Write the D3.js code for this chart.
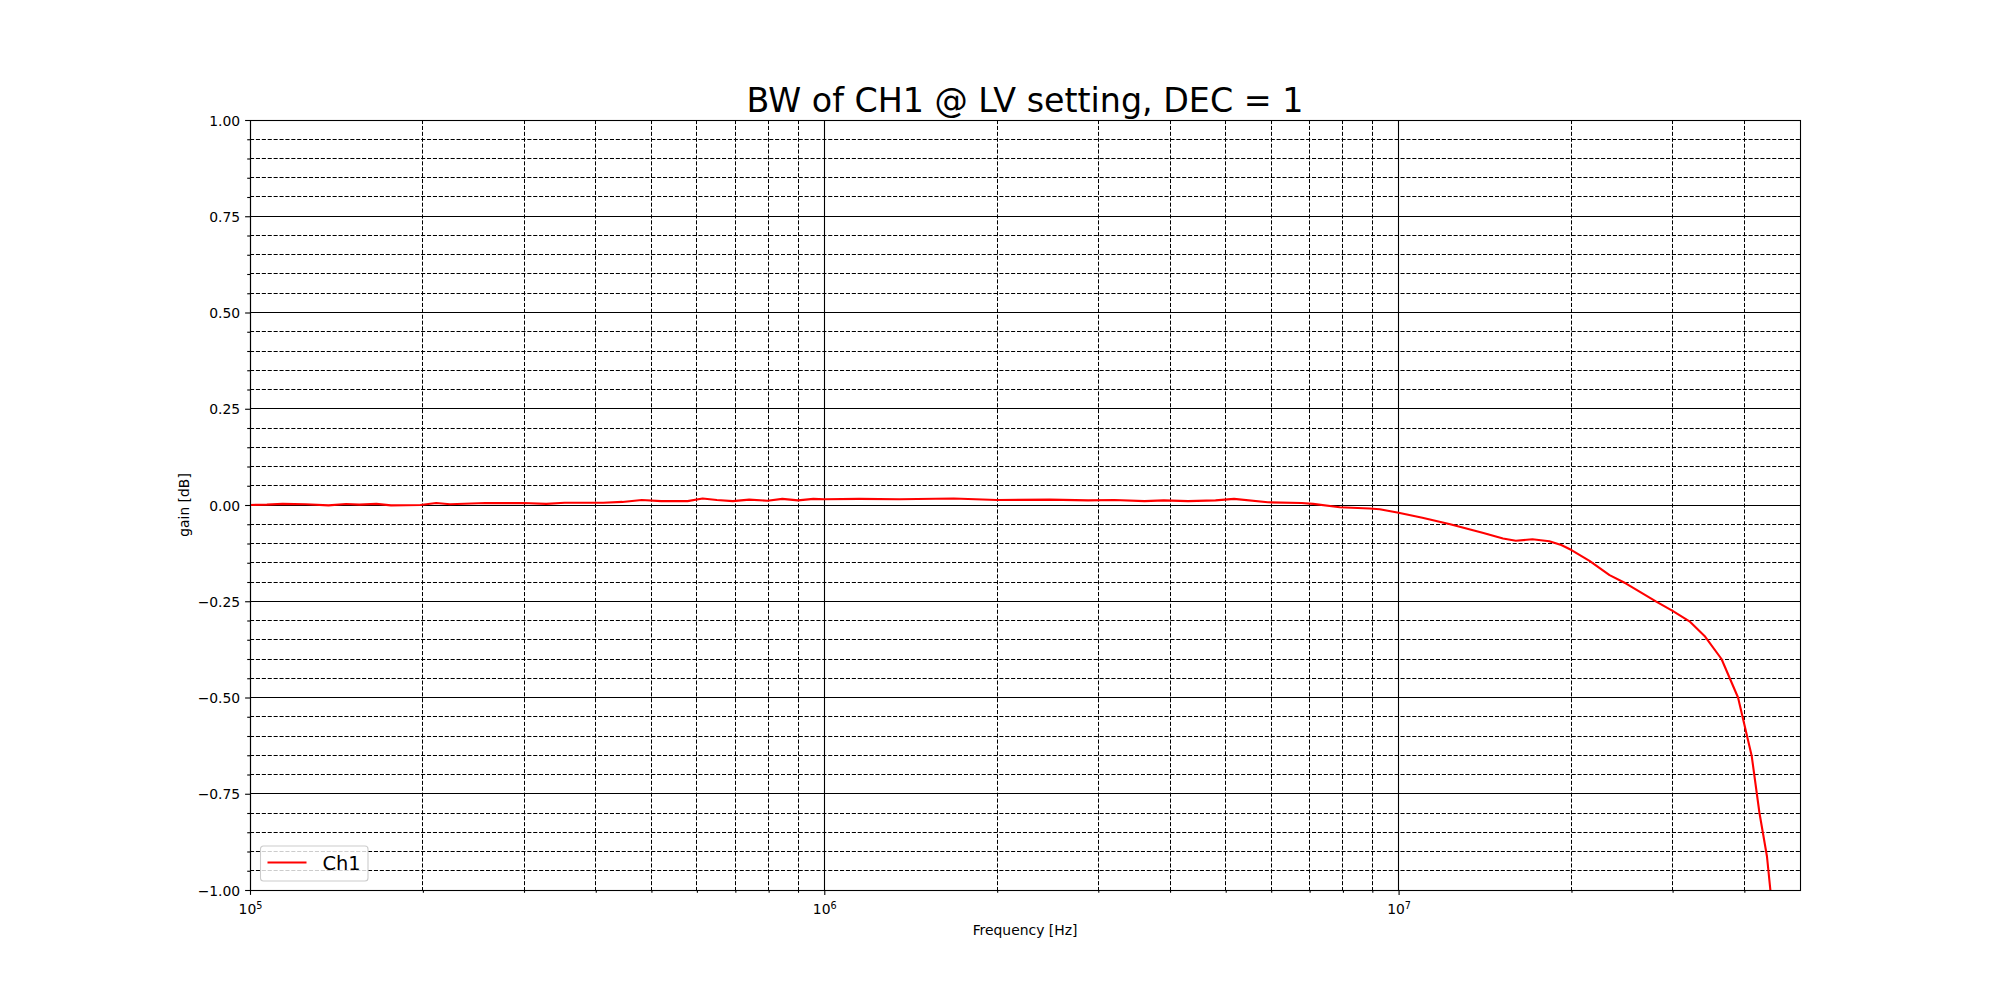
<!DOCTYPE html>
<html>
<head>
<meta charset="utf-8">
<script src="https://cdn.jsdelivr.net/npm/d3@7"></script>
<style>
  body { margin: 0; background: #fff; }
  text { font-family: "DejaVu Sans", sans-serif; fill: #000; }
</style>
</head>
<body>
<div id="chart"></div>
<script>
// Data (frequency in Hz, gain in dB)
const freqHz = [
  1.00e5, 1.07e5, 1.14e5, 1.25e5, 1.37e5, 1.47e5, 1.55e5, 1.66e5, 1.76e5, 1.98e5,
  2.11e5, 2.23e5, 2.57e5, 2.99e5, 3.28e5, 3.53e5, 4.12e5, 4.45e5, 4.81e5, 5.20e5,
  5.78e5, 6.14e5, 6.50e5, 6.93e5, 7.40e5, 7.96e5, 8.45e5, 9.00e5, 9.57e5, 1.00e6,
  1.15e6, 1.35e6, 1.68e6, 2.00e6, 2.47e6, 2.88e6, 3.20e6, 3.61e6, 3.90e6, 4.30e6,
  4.80e6, 5.17e6, 5.92e6, 6.78e6, 7.10e6, 7.90e6, 8.90e6, 9.27e6, 1.00e7, 1.10e7,
  1.23e7, 1.40e7, 1.52e7, 1.60e7, 1.71e7, 1.83e7, 1.92e7, 2.00e7, 2.15e7, 2.33e7,
  2.49e7, 2.81e7, 3.00e7, 3.21e7, 3.41e7, 3.65e7, 3.90e7, 4.12e7, 4.25e7, 4.38e7,
  4.44e7
];
const gainDb = [
  0.000, 0.001, 0.003, 0.002, -0.001, 0.0025, 0.001, 0.003, -0.001, 0.000,
  0.005, 0.002, 0.005, 0.005, 0.003, 0.006, 0.006, 0.008, 0.013, 0.010,
  0.010, 0.017, 0.013, 0.010, 0.014, 0.011, 0.016, 0.012, 0.016, 0.015,
  0.016, 0.015, 0.017, 0.013, 0.014, 0.012, 0.013, 0.010, 0.012, 0.010,
  0.012, 0.016, 0.007, 0.005, 0.003, -0.006, -0.009, -0.011, -0.020, -0.033,
  -0.050, -0.072, -0.087, -0.093, -0.089, -0.094, -0.104, -0.117, -0.145, -0.182,
  -0.204, -0.251, -0.275, -0.302, -0.340, -0.400, -0.500, -0.652, -0.800, -0.913,
  -1.000
];

const xMajorTicks = [1e5, 1e6, 1e7];
const xMinorTicks = [2e5, 3e5, 4e5, 5e5, 6e5, 7e5, 8e5, 9e5,
                     2e6, 3e6, 4e6, 5e6, 6e6, 7e6, 8e6, 9e6,
                     2e7, 3e7, 4e7];
const yMajorTicks = [-1, -0.75, -0.5, -0.25, 0, 0.25, 0.5, 0.75, 1];
const yMinorTicks = d3.range(-20, 21).filter(i => i % 5 !== 0).map(i => i * 0.05);

const titleText = "BW of CH1 @ LV setting, DEC = 1";
const seriesName = "Ch1";

// Figure size and margins (matplotlib 20x10 inch default layout)
const svgWidth = 2000;
const svgHeight = 1000;
const margin = { top: 120, right: 200, bottom: 110, left: 250 };
const chartWidth = svgWidth - margin.left - margin.right;
const chartHeight = svgHeight - margin.top - margin.bottom;

const svg = d3.select("#chart")
  .append("svg")
  .attr("width", svgWidth)
  .attr("height", svgHeight);

const chartGroup = svg.append("g")
  .attr("transform", `translate(${margin.left}, ${margin.top})`);

// scales
const xLogScale = d3.scaleLog()
  .domain([1e5, 5e7])
  .range([0, chartWidth]);

const yLinearScale = d3.scaleLinear()
  .domain([-1, 1])
  .range([chartHeight, 0]);

// snap a 1px line onto the pixel grid, like matplotlib does
const snap = v => Math.floor(v) + 0.5;

// grid lines: minor dashed, major solid
const grid = chartGroup.append("g");
grid.selectAll(".xminor").data(xMinorTicks).enter().append("line")
  .attr("x1", d => snap(xLogScale(d))).attr("x2", d => snap(xLogScale(d)))
  .attr("y1", 0).attr("y2", chartHeight)
  .attr("stroke", "#000").attr("stroke-width", 1)
  .attr("stroke-dasharray", "4.1,1.8");
grid.selectAll(".yminor").data(yMinorTicks).enter().append("line")
  .attr("x1", 0).attr("x2", chartWidth)
  .attr("y1", d => snap(yLinearScale(d))).attr("y2", d => snap(yLinearScale(d)))
  .attr("stroke", "#000").attr("stroke-width", 1)
  .attr("stroke-dasharray", "4.1,1.8");
grid.selectAll(".xmajor").data(xMajorTicks).enter().append("line")
  .attr("x1", d => snap(xLogScale(d))).attr("x2", d => snap(xLogScale(d)))
  .attr("y1", 0).attr("y2", chartHeight)
  .attr("stroke", "#000").attr("stroke-width", 1.1);
grid.selectAll(".ymajor").data(yMajorTicks).enter().append("line")
  .attr("x1", 0).attr("x2", chartWidth)
  .attr("y1", d => snap(yLinearScale(d))).attr("y2", d => snap(yLinearScale(d)))
  .attr("stroke", "#000").attr("stroke-width", 1.1);

// clip the curve to the axes box
svg.append("defs").append("clipPath").attr("id", "plotClip")
  .append("rect").attr("width", chartWidth).attr("height", chartHeight);

const lineData = freqHz.map((f, i) => ({ f: f, g: gainDb[i] }));
const gainLine = d3.line()
  .x(d => xLogScale(d.f))
  .y(d => yLinearScale(d.g));

chartGroup.append("path")
  .datum(lineData)
  .attr("clip-path", "url(#plotClip)")
  .attr("fill", "none")
  .attr("stroke", "#ff0000")
  .attr("stroke-width", 2.1)
  .attr("stroke-linejoin", "round")
  .attr("d", gainLine);

// axes
const bottomAxis = d3.axisBottom(xLogScale)
  .tickValues(xMajorTicks)
  .tickSize(4.9).tickSizeOuter(0).tickPadding(4.9)
  .tickFormat(() => "");
const bottomMinor = d3.axisBottom(xLogScale)
  .tickValues(xMinorTicks)
  .tickSize(2.8).tickSizeOuter(0)
  .tickFormat(() => "");
const leftAxis = d3.axisLeft(yLinearScale)
  .tickValues(yMajorTicks)
  .tickSize(4.9).tickSizeOuter(0).tickPadding(4.9)
  .tickFormat(d3.format(".2f"));
const leftMinor = d3.axisLeft(yLinearScale)
  .tickValues(yMinorTicks)
  .tickSize(2.8).tickSizeOuter(0)
  .tickFormat(() => "");

const xAxisG = chartGroup.append("g")
  .attr("transform", `translate(0, ${chartHeight})`)
  .call(bottomAxis);
chartGroup.append("g")
  .attr("transform", `translate(0, ${chartHeight})`)
  .call(bottomMinor);
const yAxisG = chartGroup.append("g").call(leftAxis);
chartGroup.append("g").call(leftMinor);

chartGroup.selectAll(".domain").remove();
chartGroup.selectAll(".tick line").attr("stroke", "#000").attr("stroke-width", 1.1);

// 10^n labels with superscript
xAxisG.selectAll(".tick text")
  .attr("font-size", "13.9px")
  .attr("font-family", "DejaVu Sans")
  .attr("dy", "0")
  .attr("y", 24)
  .each(function(d) {
    const t = d3.select(this);
    t.text("10");
    t.append("tspan")
      .attr("dy", -5)
      .attr("font-size", "9.7px")
      .text(Math.round(Math.log10(d)));
  });

yAxisG.selectAll(".tick text")
  .attr("font-size", "13.9px")
  .attr("font-family", "DejaVu Sans")
  .attr("dy", "0.36em");

// spines
chartGroup.append("rect")
  .attr("x", 0.5).attr("y", 0.5)
  .attr("width", chartWidth).attr("height", chartHeight)
  .attr("fill", "none").attr("stroke", "#000").attr("stroke-width", 1.1);

// labels
svg.append("text")
  .attr("x", margin.left + chartWidth / 2)
  .attr("y", 112)
  .attr("text-anchor", "middle")
  .attr("font-size", "33.3px")
  .text(titleText);

svg.append("text")
  .attr("x", margin.left + chartWidth / 2)
  .attr("y", 935)
  .attr("text-anchor", "middle")
  .attr("font-size", "13.9px")
  .text("Frequency [Hz]");

svg.append("text")
  .attr("transform", `translate(189, ${margin.top + chartHeight / 2}) rotate(-90)`)
  .attr("text-anchor", "middle")
  .attr("font-size", "13.9px")
  .text("gain [dB]");

// legend (lower left)
const legend = svg.append("g").attr("transform", "translate(260.5, 846)");
legend.append("rect")
  .attr("width", 107.5).attr("height", 35).attr("rx", 3)
  .attr("fill", "#fff").attr("fill-opacity", 0.8)
  .attr("stroke", "#cccccc").attr("stroke-width", 1.1);
legend.append("line")
  .attr("x1", 7).attr("x2", 46).attr("y1", 16.5).attr("y2", 16.5)
  .attr("stroke", "#ff0000").attr("stroke-width", 2.1);
legend.append("text")
  .attr("x", 62).attr("y", 23.5)
  .attr("font-size", "19.4px")
  .text(seriesName);
</script>
</body>
</html>
